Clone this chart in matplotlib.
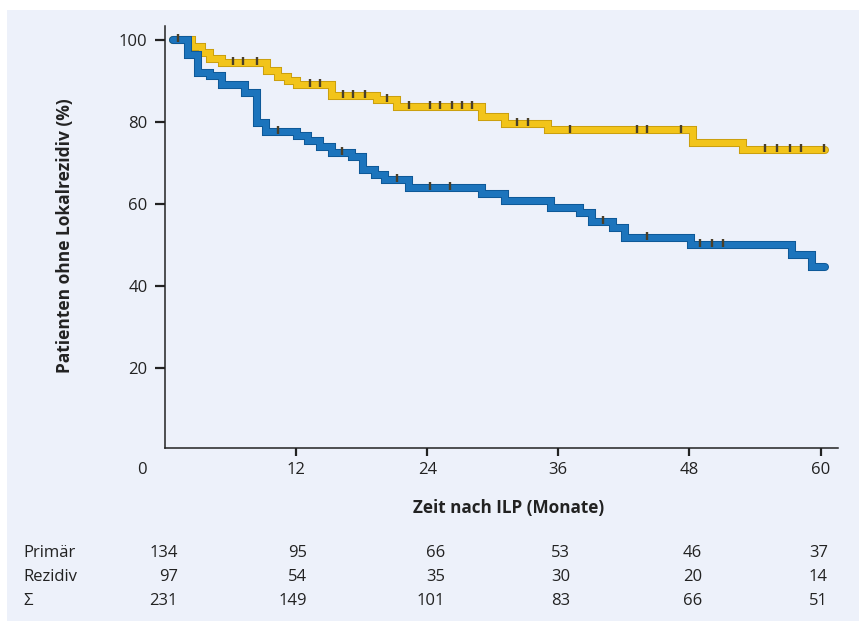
import numpy as np
import matplotlib
matplotlib.use("Agg")
import matplotlib.pyplot as plt
import matplotlib.patheffects as pe
from matplotlib.patches import Rectangle
from matplotlib.transforms import blended_transform_factory

plt.rcParams['font.family'] = ['Open Sans', 'DejaVu Sans']

# Kaplan-Meier steps (months, % without local relapse)
primaer_t = [0.7, 2.5, 3.4, 4.1, 5.2, 9.3, 10.3, 11.3, 12.1, 15.3, 19.4, 21.2,
             29.0, 31.1, 35.1, 48.3, 52.9, 60.4]
primaer_s = [100, 98.3, 96.8, 95.4, 94.4, 92.4, 91.0, 90.0, 89.0, 86.3, 85.4, 83.7,
             81.2, 79.5, 78.0, 74.9, 73.2, 73.2]
primaer_cens = [6.2, 7.1, 8.4, 13.3, 14.2, 16.3, 17.2, 18.3, 20.3, 22.3, 24.3, 25.2,
                26.3, 27.2, 28.1, 32.2, 33.2, 37.1, 43.2, 44.1, 47.2, 54.9, 56.0,
                57.2, 58.2, 60.3]

rezidiv_t = [0.7, 2.1, 3.0, 4.1, 5.2, 7.3, 8.4, 9.2, 12.1, 13.1, 14.2, 15.3, 17.1,
             18.1, 19.2, 20.1, 22.3, 29.0, 31.1, 35.3, 38.0, 39.1, 41.0, 42.1,
             48.1, 57.4, 59.2, 60.4]
rezidiv_s = [100, 96.3, 92.0, 91.3, 89.0, 87.0, 79.8, 77.6, 76.6, 75.4, 74.0, 72.4,
             71.5, 68.3, 67.1, 65.9, 63.9, 62.4, 60.8, 59.0, 57.8, 55.6, 54.1, 51.7,
             50.0, 47.6, 44.6, 44.6]
rezidiv_cens = [1.2, 10.3, 16.2, 21.2, 24.3, 26.1, 40.1, 44.1, 49.0, 50.1, 51.1]

# numbers at risk
risk_months = [0, 12, 24, 36, 48, 60]
risk_rows = ["Primär", "Rezidiv", "Σ"]
risk_primaer = [134, 95, 66, 53, 46, 37]
risk_rezidiv = [97, 54, 35, 30, 20, 14]
risk_summe = [231, 149, 101, 83, 66, 51]

BG = "#EDF1FA"
BLUE, BLUE_DARK = "#1C74BC", "#0E5896"
GOLD, GOLD_DARK = "#F2C41A", "#C99E0E"
INK = "#222222"

W, H = 859, 621


def px(x, y):
    # pixel position -> figure fraction
    return x / W, 1 - y / H


def value_at(t, s, c):
    i = np.searchsorted(t, c, side='right') - 1
    return s[max(i, 0)]


fig = plt.figure(figsize=(W / 100, H / 100), dpi=100, facecolor="white")
fig.patches.append(Rectangle((7 / W, 0), 1, 1 - 10 / H, transform=fig.transFigure,
                             facecolor=BG, edgecolor="none", zorder=-5))

ax = fig.add_axes([165 / W, 1 - 448 / H, (838 - 165) / W, (448 - 26) / H])
ax.set_facecolor(BG)

for t, s, cens, col, dark in [(primaer_t, primaer_s, primaer_cens, GOLD, GOLD_DARK),
                              (rezidiv_t, rezidiv_s, rezidiv_cens, BLUE, BLUE_DARK)]:
    ax.step(t, s, where='post', color=col, lw=4.4, solid_capstyle='round',
            solid_joinstyle='miter',
            path_effects=[pe.Stroke(linewidth=5.8, foreground=dark), pe.Normal()])
    cy = [value_at(t, s, c) + 0.4 for c in cens]
    ax.plot(cens, cy, ls='none', marker='|', ms=5.5, mew=1.7, color="#4a3f28")

ax.set_xlim(0, 61.6)
ax.set_ylim(0.5, 103.4)

for side in ['top', 'right']:
    ax.spines[side].set_visible(False)
for side in ['left', 'bottom']:
    ax.spines[side].set_linewidth(1.1)
    ax.spines[side].set_color(INK)

ax.set_yticks([20, 40, 60, 80, 100])
ax.set_xticks(risk_months[1:])
ax.tick_params(axis='y', direction='out', length=7.5, width=1.6, pad=5,
               labelsize=12, colors=INK)
ax.tick_params(axis='x', direction='out', length=6, width=1.6, pad=4,
               labelsize=12, colors=INK)

# the "0" label has no tick mark and sits left of the axis
trans = blended_transform_factory(ax.transData, fig.transFigure)
ax.text(-2.1, px(0, 470)[1], "0", transform=trans, ha='center', va='center',
        fontsize=12, color=INK)

fig.text(*px(65, 236), "Patienten ohne Lokalrezidiv (%)", rotation=90,
         ha='center', va='center', fontsize=12.5, fontweight='bold', color=INK)
fig.text(*px(509, 508), "Zeit nach ILP (Monate)", ha='center', va='center',
         fontsize=12.3, fontweight='bold', color=INK)

# risk table
col_right = [178, 307, 445, 570, 702, 828]
row_y = [553, 577, 601]
for name, vals, y in zip(risk_rows, [risk_primaer, risk_rezidiv, risk_summe], row_y):
    fig.text(*px(23, y), name, ha='left', va='center', fontsize=12, color=INK)
    for xr, v in zip(col_right, vals):
        fig.text(*px(xr, y), str(v), ha='right', va='center', fontsize=12,
                 color=INK)

fig.savefig("out.png", dpi=100, facecolor="white")
